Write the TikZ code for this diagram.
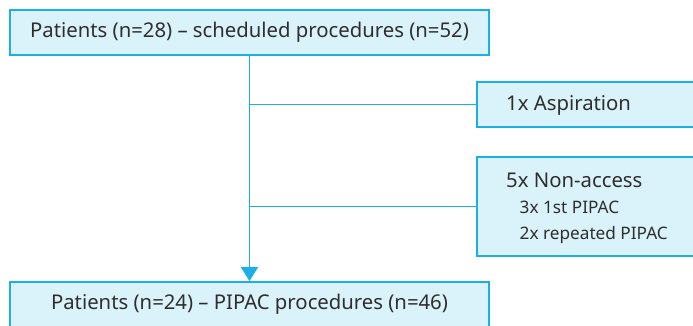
\documentclass[tikz,border=0pt]{standalone}
\usepackage{fontspec}
\setmainfont{Noto Sans}
\usetikzlibrary{arrows.meta}
\definecolor{lineblue}{HTML}{1AAFE6}
\definecolor{boxfill}{HTML}{DAF2FA}
\definecolor{txt}{HTML}{2E2E2E}
\tikzset{
  box/.style={draw=lineblue, fill=boxfill, line width=1.8pt, inner sep=0pt, text=txt, font=\fontsize{20.3}{24}\selectfont},
  sidebox/.style={draw=lineblue, fill=boxfill, line width=1.8pt, inner sep=0pt, anchor=west, minimum width=290pt},
  label/.style={anchor=base west, inner sep=0pt, text=txt, font=\fontsize{20.3}{24}\selectfont},
  sublabel/.style={label, font=\fontsize{17.2}{20}\selectfont},
  conn/.style={draw=lineblue, line width=1.8pt},
}
\begin{document}
\begin{tikzpicture}[x=1pt,y=-1pt]
\clip (0,0) rectangle (693,325);
\fill[white] (0,0) rectangle (693,325);
\node[box, minimum width=479pt, minimum height=45pt] (top) at (249.5,32.5) {Patients (n=28) -- scheduled procedures (n=52)};
\node[box, minimum width=479pt, minimum height=45pt] (bot) at (249.5,304.5) {Patients (n=24) -- PIPAC procedures (n=46)};
\node[sidebox, minimum height=45pt] (asp) at (476,104.5) {};
\node[sidebox, minimum height=99pt] (non) at (476,206.5) {};
\node[label] (asptxt) at (506,110.5) {1x Aspiration};
\node[label] (nontxt) at (506,187) {5x Non-access};
\node[sublabel] (sub1) at (519.5,213.5) {3x 1st PIPAC};
\node[sublabel] (sub2) at (519.5,239.5) {2x repeated PIPAC};
\draw[conn, -{Triangle[width=17pt,length=14pt]}] (top.south) -- (bot.north);
\draw[conn] (top.south |- asp.west) -- (asp.west);
\draw[conn] (top.south |- non.west) -- (non.west);
\end{tikzpicture}
\end{document}
